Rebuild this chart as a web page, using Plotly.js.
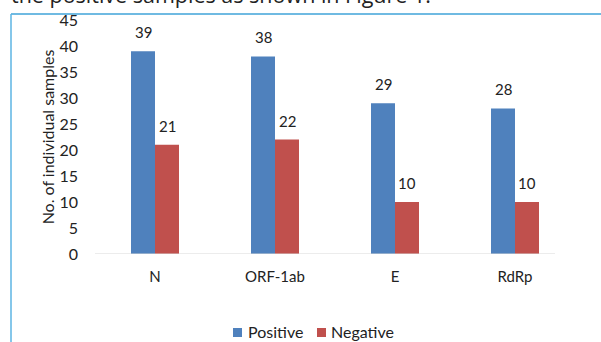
<!DOCTYPE html>
<html>
<head>
<meta charset="utf-8">
<script src="https://cdn.plot.ly/plotly-3.0.1.min.js"></script>
<style>
  html, body { margin: 0; padding: 0; background: #fff; }
  #chart { width: 601px; height: 342px; }
</style>
</head>
<body>
<div id="chart"></div>
<script>
// Gene targets and sample counts
const genes = ['N', 'ORF-1ab', 'E', 'RdRp'];
const positive = [39, 38, 29, 28];
const negative = [21, 22, 10, 10];
const seriesNames = ['Positive', 'Negative'];
const yTicks = [0, 5, 10, 15, 20, 25, 30, 35, 40, 45];

const BLUE = '#4F81BD';
const RED = '#C0504D';
const colors = [BLUE, RED];
const chartFont = 'Lato, "Open Sans", sans-serif';

const ML = 95, MR = 26, MT = 20, MB = 88, W = 601, H = 342;
const pw = W - ML - MR, ph = H - MT - MB;
// pixel -> paper helpers for decorations outside the plot area
const px = x => (x - ML) / pw;
const py = y => (H - MB - y) / ph;

const traces = [positive, negative].map((vals, k) => ({
  type: 'bar', name: seriesNames[k], x: genes, y: vals,
  marker: { color: colors[k] }, hoverinfo: 'x+y', showlegend: false
}));

// value labels above each bar
const annotations = [];
[[positive, -12], [negative, 12]].forEach(([vals, shift]) => {
  vals.forEach((v, i) => {
    annotations.push({
      x: genes[i], y: v, xref: 'x', yref: 'y',
      text: String(v), showarrow: false,
      xshift: shift, yshift: 8, yanchor: 'bottom',
      font: { family: chartFont, size: 15, color: '#222' }
    });
  });
});

// running text of the page sitting above the figure frame
annotations.push({
  xref: 'paper', yref: 'paper', x: px(9), y: py(11),
  xanchor: 'left', yanchor: 'bottom', showarrow: false,
  text: 'the positive samples as shown in Figure 1.',
  font: { family: '"Open Sans", sans-serif', size: 21.5, color: '#222' }
});

// compact legend below the chart: colour key + series name
const legendItems = [
  { sq: 233, tx: 246 },
  { sq: 317, tx: 329 }
];
const shapes = [];
legendItems.forEach((it, k) => {
  shapes.push({
    type: 'rect', xref: 'paper', yref: 'paper',
    x0: px(it.sq), x1: px(it.sq + 9), y0: py(337), y1: py(328),
    fillcolor: colors[k], line: { width: 0 }
  });
  annotations.push({
    xref: 'paper', yref: 'paper', x: px(it.tx), y: py(331),
    xanchor: 'left', yanchor: 'middle', showarrow: false,
    text: seriesNames[k],
    font: { family: chartFont, size: 16, color: '#222' }
  });
});

shapes.push(
  // category axis baseline
  { type: 'line', xref: 'paper', yref: 'y', x0: 0, x1: px(555), y0: 0, y1: 0,
    line: { color: '#d9d9d9', width: 1 } },
  // figure frame: top and left rules
  { type: 'line', xref: 'paper', yref: 'paper', x0: px(11), x1: px(601), y0: py(14), y1: py(14),
    line: { color: '#3fa3d9', width: 1.5 } },
  { type: 'line', xref: 'paper', yref: 'paper', x0: px(11), x1: px(11), y0: py(14), y1: py(342),
    line: { color: '#5db5e3', width: 1.5 } }
);

const layout = {
  width: W, height: H,
  margin: { l: ML, r: MR, t: MT, b: MB, pad: 0, autoexpand: false },
  paper_bgcolor: '#fff', plot_bgcolor: '#fff',
  font: { family: chartFont, size: 14, color: '#222' },
  barmode: 'group', bargap: 0.6, bargroupgap: 0,
  showlegend: false,
  xaxis: {
    range: [-0.5, 3.5], showgrid: false, zeroline: false, showline: false,
    ticks: '', ticklabelstandoff: 12, fixedrange: true,
    tickfont: { family: chartFont, size: 15, color: '#222' }
  },
  yaxis: {
    range: [0, 45], tickvals: yTicks, showgrid: false, zeroline: false,
    showline: false, ticks: '', ticklabelstandoff: 16, fixedrange: true,
    tickfont: { family: chartFont, size: 16, color: '#222' },
    title: { text: 'No. of individual samples', standoff: 0,
             font: { family: chartFont, size: 16, color: '#222' } }
  },
  shapes: shapes,
  annotations: annotations
};

Plotly.newPlot('chart', traces, layout, { displayModeBar: false, staticPlot: true });
</script>
</body>
</html>
